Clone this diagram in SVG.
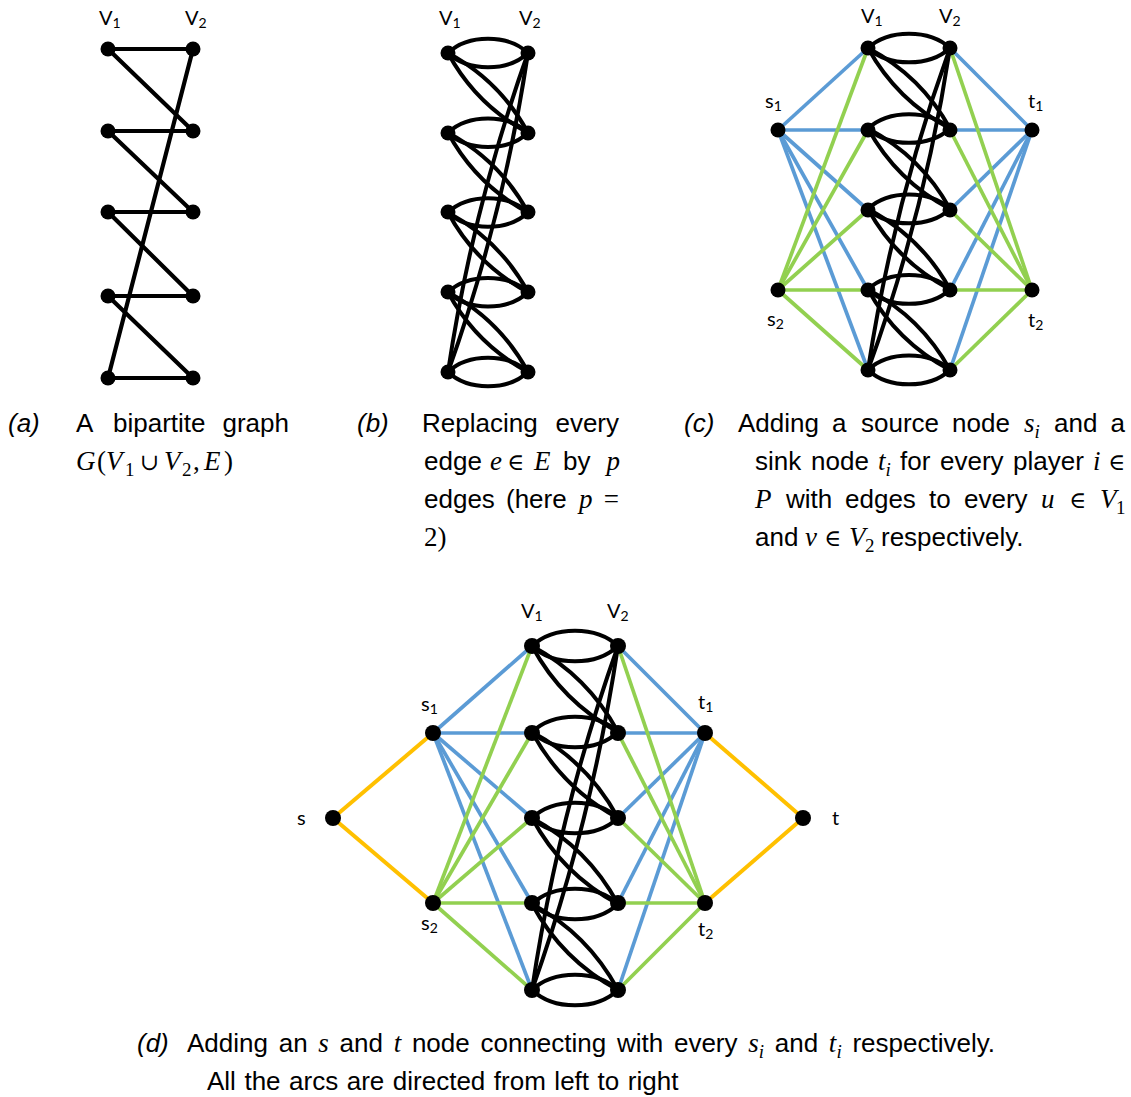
<svg xmlns="http://www.w3.org/2000/svg" width="1131" height="1097" viewBox="0 0 1131 1097">
<style>
.e{fill:none;stroke:#000;stroke-width:4.2;stroke-linecap:round}
.bk{fill:none;stroke:#000;stroke-width:4;vector-effect:non-scaling-stroke}
.bl{fill:none;stroke:#5B9BD5;stroke-width:3.7}
.gr{fill:none;stroke:#92D050;stroke-width:3.7}
.or{fill:none;stroke:#FFC000;stroke-width:4}
.n{fill:#000}
.lbl{font-family:Lato,"Open Sans","Liberation Sans",sans-serif;font-size:20px;fill:#000}
.sb{font-size:14px}
.cap{font-family:"Liberation Sans",Arial,sans-serif;font-size:26px;fill:#000}
.it{font-style:italic}
.m{font-family:"Liberation Serif","DejaVu Serif",serif;font-style:italic;font-size:27px}
.mr{font-family:"Liberation Serif","DejaVu Serif",serif;font-style:normal;font-size:27px}
.ms{font-family:"Liberation Serif","DejaVu Serif",serif;font-size:19px}
.sy{font-family:"DejaVu Serif",serif;font-style:normal;font-size:23px}
</style>

<!-- ============ Panel (a) ============ -->
<g id="panel-a">
  <g id="a-connectors">
    <line class="e" x1="108" y1="49" x2="193" y2="49"/>
    <line class="e" x1="108" y1="131" x2="193" y2="131"/>
    <line class="e" x1="108" y1="212" x2="193" y2="212"/>
    <line class="e" x1="108" y1="296" x2="193" y2="296"/>
    <line class="e" x1="108" y1="378" x2="193" y2="378"/>
    <line class="e" x1="108" y1="49" x2="193" y2="131"/>
    <line class="e" x1="108" y1="131" x2="193" y2="212"/>
    <line class="e" x1="108" y1="212" x2="193" y2="296"/>
    <line class="e" x1="108" y1="296" x2="193" y2="378"/>
    <line class="e" x1="108" y1="378" x2="193" y2="49"/>
  </g>
  <text class="lbl" x="99" y="25">V<tspan class="sb" dy="3">1</tspan></text>
  <text class="lbl" x="185" y="25">V<tspan class="sb" dy="3">2</tspan></text>
  <g id="a-u1"><circle class="n" cx="108" cy="49" r="7.5"/></g>
  <g id="a-u2"><circle class="n" cx="108" cy="131" r="7.5"/></g>
  <g id="a-u3"><circle class="n" cx="108" cy="212" r="7.5"/></g>
  <g id="a-u4"><circle class="n" cx="108" cy="296" r="7.5"/></g>
  <g id="a-u5"><circle class="n" cx="108" cy="378" r="7.5"/></g>
  <g id="a-v1"><circle class="n" cx="193" cy="49" r="7.5"/></g>
  <g id="a-v2"><circle class="n" cx="193" cy="131" r="7.5"/></g>
  <g id="a-v3"><circle class="n" cx="193" cy="212" r="7.5"/></g>
  <g id="a-v4"><circle class="n" cx="193" cy="296" r="7.5"/></g>
  <g id="a-v5"><circle class="n" cx="193" cy="378" r="7.5"/></g>
</g>

<!-- ============ Panel (b) ============ -->
<g id="panel-b">
  <g id="b-connectors" transform="translate(448,53) scale(1,0.997)">
    <path class="bk" d="M0,0 C20,-19 60,-19 80,0"/><path class="bk" d="M0,0 C20,19 60,19 80,0"/>
    <path class="bk" d="M0,80 C20,61 60,61 80,80"/><path class="bk" d="M0,80 C20,99 60,99 80,80"/>
    <path class="bk" d="M0,160 C20,141 60,141 80,160"/><path class="bk" d="M0,160 C20,179 60,179 80,160"/>
    <path class="bk" d="M0,240 C20,221 60,221 80,240"/><path class="bk" d="M0,240 C20,259 60,259 80,240"/>
    <path class="bk" d="M0,320 C20,301 60,301 80,320"/><path class="bk" d="M0,320 C20,339 60,339 80,320"/>
    <path class="bk" d="M0,0 Q52,28 80,80"/><path class="bk" d="M0,0 Q28,52 80,80"/>
    <path class="bk" d="M0,80 Q52,108 80,160"/><path class="bk" d="M0,80 Q28,132 80,160"/>
    <path class="bk" d="M0,160 Q52,188 80,240"/><path class="bk" d="M0,160 Q28,212 80,240"/>
    <path class="bk" d="M0,240 Q52,268 80,320"/><path class="bk" d="M0,240 Q28,292 80,320"/>
    <path class="bk" d="M0,320 Q55.5,163.9 80,0"/><path class="bk" d="M0,320 Q24.5,156.1 80,0"/>
  </g>
  <text class="lbl" x="439" y="25">V<tspan class="sb" dy="3">1</tspan></text>
  <text class="lbl" x="519" y="25">V<tspan class="sb" dy="3">2</tspan></text>
  <g id="b-u1"><circle class="n" cx="448" cy="53" r="7.5"/></g>
  <g id="b-u2"><circle class="n" cx="448" cy="133" r="7.5"/></g>
  <g id="b-u3"><circle class="n" cx="448" cy="212" r="7.5"/></g>
  <g id="b-u4"><circle class="n" cx="448" cy="292" r="7.5"/></g>
  <g id="b-u5"><circle class="n" cx="448" cy="372" r="7.5"/></g>
  <g id="b-v1"><circle class="n" cx="528" cy="53" r="7.5"/></g>
  <g id="b-v2"><circle class="n" cx="528" cy="133" r="7.5"/></g>
  <g id="b-v3"><circle class="n" cx="528" cy="212" r="7.5"/></g>
  <g id="b-v4"><circle class="n" cx="528" cy="292" r="7.5"/></g>
  <g id="b-v5"><circle class="n" cx="528" cy="372" r="7.5"/></g>
</g>

<!-- ============ Panel (c) ============ -->
<g id="panel-c">
  <g id="c-connectors">
    <g id="c-colored">
      <line class="bl" x1="778" y1="130" x2="868" y2="48"/>
      <line class="bl" x1="778" y1="130" x2="868" y2="130"/>
      <line class="bl" x1="778" y1="130" x2="868" y2="210"/>
      <line class="bl" x1="778" y1="130" x2="868" y2="290"/>
      <line class="bl" x1="778" y1="130" x2="868" y2="370"/>
      <line class="gr" x1="778" y1="290" x2="868" y2="48"/>
      <line class="gr" x1="778" y1="290" x2="868" y2="130"/>
      <line class="gr" x1="778" y1="290" x2="868" y2="210"/>
      <line class="gr" x1="778" y1="290" x2="868" y2="290"/>
      <line class="gr" x1="778" y1="290" x2="868" y2="370"/>
      <line class="bl" x1="950" y1="48" x2="1032" y2="130"/>
      <line class="bl" x1="950" y1="130" x2="1032" y2="130"/>
      <line class="bl" x1="950" y1="210" x2="1032" y2="130"/>
      <line class="bl" x1="950" y1="290" x2="1032" y2="130"/>
      <line class="bl" x1="950" y1="370" x2="1032" y2="130"/>
      <line class="gr" x1="950" y1="48" x2="1032" y2="290"/>
      <line class="gr" x1="950" y1="130" x2="1032" y2="290"/>
      <line class="gr" x1="950" y1="210" x2="1032" y2="290"/>
      <line class="gr" x1="950" y1="290" x2="1032" y2="290"/>
      <line class="gr" x1="950" y1="370" x2="1032" y2="290"/>
    </g>
    <g id="c-black" transform="translate(868,48) scale(1.025,1.006)">
      <path class="bk" d="M0,0 C20,-19 60,-19 80,0"/><path class="bk" d="M0,0 C20,19 60,19 80,0"/>
      <path class="bk" d="M0,80 C20,61 60,61 80,80"/><path class="bk" d="M0,80 C20,99 60,99 80,80"/>
      <path class="bk" d="M0,160 C20,141 60,141 80,160"/><path class="bk" d="M0,160 C20,179 60,179 80,160"/>
      <path class="bk" d="M0,240 C20,221 60,221 80,240"/><path class="bk" d="M0,240 C20,259 60,259 80,240"/>
      <path class="bk" d="M0,320 C20,301 60,301 80,320"/><path class="bk" d="M0,320 C20,339 60,339 80,320"/>
      <path class="bk" d="M0,0 Q52,28 80,80"/><path class="bk" d="M0,0 Q28,52 80,80"/>
      <path class="bk" d="M0,80 Q52,108 80,160"/><path class="bk" d="M0,80 Q28,132 80,160"/>
      <path class="bk" d="M0,160 Q52,188 80,240"/><path class="bk" d="M0,160 Q28,212 80,240"/>
      <path class="bk" d="M0,240 Q52,268 80,320"/><path class="bk" d="M0,240 Q28,292 80,320"/>
      <path class="bk" d="M0,320 Q55.5,163.9 80,0"/><path class="bk" d="M0,320 Q24.5,156.1 80,0"/>
    </g>
  </g>
  <text class="lbl" x="861" y="23">V<tspan class="sb" dy="3">1</tspan></text>
  <text class="lbl" x="939" y="23">V<tspan class="sb" dy="3">2</tspan></text>
  <g id="c-s1"><circle class="n" cx="778" cy="130" r="7.5"/><text class="lbl" x="765" y="108">s<tspan class="sb" dy="3">1</tspan></text></g>
  <g id="c-s2"><circle class="n" cx="778" cy="290" r="7.5"/><text class="lbl" x="767" y="326">s<tspan class="sb" dy="3">2</tspan></text></g>
  <g id="c-t1"><circle class="n" cx="1032" cy="130" r="7.5"/><text class="lbl" x="1028" y="108">t<tspan class="sb" dy="3">1</tspan></text></g>
  <g id="c-t2"><circle class="n" cx="1032" cy="290" r="7.5"/><text class="lbl" x="1028" y="327">t<tspan class="sb" dy="3">2</tspan></text></g>
  <g id="c-u1"><circle class="n" cx="868" cy="48" r="7.5"/></g>
  <g id="c-u2"><circle class="n" cx="868" cy="130" r="7.5"/></g>
  <g id="c-u3"><circle class="n" cx="868" cy="210" r="7.5"/></g>
  <g id="c-u4"><circle class="n" cx="868" cy="290" r="7.5"/></g>
  <g id="c-u5"><circle class="n" cx="868" cy="370" r="7.5"/></g>
  <g id="c-v1"><circle class="n" cx="950" cy="48" r="7.5"/></g>
  <g id="c-v2"><circle class="n" cx="950" cy="130" r="7.5"/></g>
  <g id="c-v3"><circle class="n" cx="950" cy="210" r="7.5"/></g>
  <g id="c-v4"><circle class="n" cx="950" cy="290" r="7.5"/></g>
  <g id="c-v5"><circle class="n" cx="950" cy="370" r="7.5"/></g>
</g>

<!-- ============ Panel (d) ============ -->
<g id="panel-d">
  <g id="d-connectors">
    <g id="d-orange">
      <line class="or" x1="333" y1="818" x2="433" y2="733"/>
      <line class="or" x1="333" y1="818" x2="433" y2="903"/>
      <line class="or" x1="705" y1="733" x2="803" y2="818"/>
      <line class="or" x1="705" y1="903" x2="803" y2="818"/>
    </g>
    <g id="d-colored">
      <line class="bl" x1="433" y1="733" x2="532" y2="646"/>
      <line class="bl" x1="433" y1="733" x2="532" y2="733"/>
      <line class="bl" x1="433" y1="733" x2="532" y2="818"/>
      <line class="bl" x1="433" y1="733" x2="532" y2="903"/>
      <line class="bl" x1="433" y1="733" x2="532" y2="990"/>
      <line class="gr" x1="433" y1="903" x2="532" y2="646"/>
      <line class="gr" x1="433" y1="903" x2="532" y2="733"/>
      <line class="gr" x1="433" y1="903" x2="532" y2="818"/>
      <line class="gr" x1="433" y1="903" x2="532" y2="903"/>
      <line class="gr" x1="433" y1="903" x2="532" y2="990"/>
      <line class="bl" x1="618" y1="646" x2="705" y2="733"/>
      <line class="bl" x1="618" y1="733" x2="705" y2="733"/>
      <line class="bl" x1="618" y1="818" x2="705" y2="733"/>
      <line class="bl" x1="618" y1="903" x2="705" y2="733"/>
      <line class="bl" x1="618" y1="990" x2="705" y2="733"/>
      <line class="gr" x1="618" y1="646" x2="705" y2="903"/>
      <line class="gr" x1="618" y1="733" x2="705" y2="903"/>
      <line class="gr" x1="618" y1="818" x2="705" y2="903"/>
      <line class="gr" x1="618" y1="903" x2="705" y2="903"/>
      <line class="gr" x1="618" y1="990" x2="705" y2="903"/>
    </g>
    <g id="d-black" transform="translate(532,646) scale(1.075,1.075)">
      <path class="bk" d="M0,0 C20,-19 60,-19 80,0"/><path class="bk" d="M0,0 C20,19 60,19 80,0"/>
      <path class="bk" d="M0,80 C20,61 60,61 80,80"/><path class="bk" d="M0,80 C20,99 60,99 80,80"/>
      <path class="bk" d="M0,160 C20,141 60,141 80,160"/><path class="bk" d="M0,160 C20,179 60,179 80,160"/>
      <path class="bk" d="M0,240 C20,221 60,221 80,240"/><path class="bk" d="M0,240 C20,259 60,259 80,240"/>
      <path class="bk" d="M0,320 C20,301 60,301 80,320"/><path class="bk" d="M0,320 C20,339 60,339 80,320"/>
      <path class="bk" d="M0,0 Q52,28 80,80"/><path class="bk" d="M0,0 Q28,52 80,80"/>
      <path class="bk" d="M0,80 Q52,108 80,160"/><path class="bk" d="M0,80 Q28,132 80,160"/>
      <path class="bk" d="M0,160 Q52,188 80,240"/><path class="bk" d="M0,160 Q28,212 80,240"/>
      <path class="bk" d="M0,240 Q52,268 80,320"/><path class="bk" d="M0,240 Q28,292 80,320"/>
      <path class="bk" d="M0,320 Q55.5,163.9 80,0"/><path class="bk" d="M0,320 Q24.5,156.1 80,0"/>
    </g>
  </g>
  <text class="lbl" x="521" y="618">V<tspan class="sb" dy="3">1</tspan></text>
  <text class="lbl" x="607" y="618">V<tspan class="sb" dy="3">2</tspan></text>
  <g id="d-s"><circle class="n" cx="333" cy="818" r="8"/><text class="lbl" x="297" y="825">s</text></g>
  <g id="d-t"><circle class="n" cx="803" cy="818" r="8"/><text class="lbl" x="832" y="825">t</text></g>
  <g id="d-s1"><circle class="n" cx="433" cy="733" r="8"/><text class="lbl" x="421" y="711">s<tspan class="sb" dy="3">1</tspan></text></g>
  <g id="d-s2"><circle class="n" cx="433" cy="903" r="8"/><text class="lbl" x="421" y="930">s<tspan class="sb" dy="3">2</tspan></text></g>
  <g id="d-t1"><circle class="n" cx="705" cy="733" r="8"/><text class="lbl" x="698" y="709">t<tspan class="sb" dy="3">1</tspan></text></g>
  <g id="d-t2"><circle class="n" cx="705" cy="903" r="8"/><text class="lbl" x="698" y="936">t<tspan class="sb" dy="3">2</tspan></text></g>
  <g id="d-u1"><circle class="n" cx="532" cy="646" r="8"/></g>
  <g id="d-u2"><circle class="n" cx="532" cy="733" r="8"/></g>
  <g id="d-u3"><circle class="n" cx="532" cy="818" r="8"/></g>
  <g id="d-u4"><circle class="n" cx="532" cy="903" r="8"/></g>
  <g id="d-u5"><circle class="n" cx="532" cy="990" r="8"/></g>
  <g id="d-v1"><circle class="n" cx="618" cy="646" r="8"/></g>
  <g id="d-v2"><circle class="n" cx="618" cy="733" r="8"/></g>
  <g id="d-v3"><circle class="n" cx="618" cy="818" r="8"/></g>
  <g id="d-v4"><circle class="n" cx="618" cy="903" r="8"/></g>
  <g id="d-v5"><circle class="n" cx="618" cy="990" r="8"/></g>
</g>

<!-- ============ Captions ============ -->
<g id="captions">
  <!-- (a) -->
  <text class="cap it" x="8" y="432">(a)</text>
  <text class="cap" y="432"><tspan x="76">A</tspan><tspan x="113">bipartite</tspan></text>
  <text class="cap" x="289" y="432" text-anchor="end">graph</text>
  <text class="cap" y="470"><tspan class="m" x="76">G</tspan><tspan class="mr" x="97">(</tspan><tspan class="m" x="106">V</tspan><tspan class="ms" x="125" y="476">1</tspan><tspan class="sy" x="140" y="470">∪</tspan><tspan class="m" x="164">V</tspan><tspan class="ms" x="182" y="476">2</tspan><tspan class="mr" x="193" y="470">,</tspan><tspan class="m" x="204">E</tspan><tspan class="mr" x="224">)</tspan></text>

  <!-- (b) -->
  <text class="cap it" x="357" y="432">(b)</text>
  <text class="cap" x="422" y="432">Replacing</text>
  <text class="cap" x="619" y="432" text-anchor="end">every</text>
  <text class="cap" y="470"><tspan x="424">edge</tspan><tspan class="m" x="490">e</tspan><tspan class="sy" x="507">∈</tspan><tspan class="m" x="534">E</tspan><tspan x="563">by</tspan></text>
  <text class="cap m" x="620" y="470" text-anchor="end">p</text>
  <text class="cap" y="508"><tspan x="424">edges</tspan><tspan x="506">(here</tspan><tspan class="m" x="579">p</tspan></text>
  <text class="cap mr" x="619" y="508" text-anchor="end">=</text>
  <text class="cap mr" x="424" y="546">2)</text>

  <!-- (c) -->
  <text class="cap it" x="684" y="432">(c)</text>
  <text class="cap" y="432"><tspan x="738">Adding</tspan><tspan x="832">a</tspan><tspan x="861">source</tspan><tspan x="952">node</tspan><tspan class="m" x="1024">s</tspan><tspan class="ms it" x="1034.5" y="438">i</tspan><tspan x="1054" y="432">and</tspan></text>
  <text class="cap" x="1125" y="432" text-anchor="end">a</text>
  <text class="cap" y="470"><tspan x="755">sink</tspan><tspan x="811">node</tspan><tspan class="m" x="878">t</tspan><tspan class="ms it" x="885.5" y="476">i</tspan><tspan x="900" y="470">for</tspan><tspan x="940">every</tspan><tspan x="1013">player</tspan><tspan class="m" x="1093">i</tspan></text>
  <text class="cap sy" x="1125" y="470" text-anchor="end">∈</text>
  <text class="cap" y="508"><tspan class="m" x="755">P</tspan><tspan x="786">with</tspan><tspan x="845">edges</tspan><tspan x="929">to</tspan><tspan x="964">every</tspan><tspan class="m" x="1041">u</tspan><tspan class="sy" x="1069">∈</tspan><tspan class="m" x="1100">V</tspan><tspan class="ms" x="1116" y="514">1</tspan></text>
  <text class="cap" y="546"><tspan x="755">and</tspan><tspan class="m" x="805">v</tspan><tspan class="sy" x="824">∈</tspan><tspan class="m" x="849">V</tspan><tspan class="ms" x="865" y="552">2</tspan><tspan x="881" y="546">respectively.</tspan></text>

  <!-- (d) -->
  <text class="cap it" x="137" y="1052">(d)</text>
  <text class="cap" x="187" y="1052" word-spacing="3.5">Adding an <tspan class="m">s</tspan> and <tspan class="m">t</tspan> node connecting with every <tspan class="m">s</tspan><tspan class="ms it" dy="6">i</tspan><tspan dy="-6"> and </tspan><tspan class="m">t</tspan><tspan class="ms it" dy="6">i</tspan><tspan dy="-6"> respectively.</tspan></text>
  <text class="cap" x="207" y="1090" word-spacing="1.3">All the arcs are directed from left to right</text>
</g>
</svg>
